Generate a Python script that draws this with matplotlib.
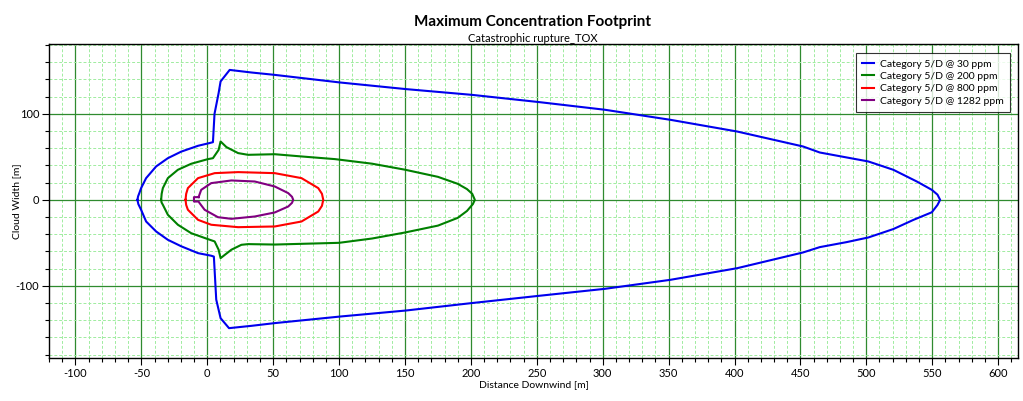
import numpy as np
import matplotlib
matplotlib.use("Agg")
import matplotlib.pyplot as plt
from matplotlib.ticker import MultipleLocator

plt.rcParams['font.family'] = ['Lato', 'DejaVu Sans']
plt.rcParams['axes.unicode_minus'] = False

# Footprint contours (distance downwind, cloud width), in metres
x_30 = [-53, -52.5, -51.5, -50.2, -46.4, -38.8, -29.9, -19.8, -7, 1.8, 4.3, 5.5, 8.6, 10.1, 17,
        33.5, 50.8, 100.7, 150.7, 200.9, 251.7, 301.6, 351.4, 402, 452, 464.7, 501.5,
        520.5, 538.3, 549.7, 554, 556, 554, 549.7, 535.8, 520.5, 501.5, 485, 464.7, 452, 402,
        351.4, 301.6, 251.7, 200.9, 150.7, 100.7, 50.8, 33.5, 16.5, 10.1, 6.8, 5, 3,
        -7, -19.8, -29.9, -38.8, -46.4, -50.2, -52.3, -53]
y_30 = [0, 4, 8, 13.6, 25.2, 38.8, 48.4, 56, 62.8, 66, 67, 100, 124, 137.6, 151,
        148, 145.3, 136.4, 128.7, 122, 113.6, 104.7, 93, 79.4, 62, 55, 44.6,
        34.9, 21.3, 11.6, 6, 0, -6, -14.5, -23.3, -34, -43.8, -49.2, -55, -61.2, -79.5,
        -93, -103.5, -111.6, -120, -128.7, -135.7, -143.4, -146.5, -149.2, -137.6, -116, -66, -65,
        -62, -54, -46.5, -36.8, -25.2, -11.6, -5, 0]

x_200 = [-35, -34.6, -33.7, -29.9, -22.3, -12.2, 0.5, 4.3, 8.6, 10.1, 14.5, 23.4, 31, 51.2, 71.5,
         96.9, 125, 150, 175, 190, 197, 201, 203, 201.5, 197, 190, 175, 150, 125, 100, 51.2, 31, 25.9,
         18.3, 10.1, 8.6, 5.6, 0.5, -12.2, -22.3, -29.9, -33.7, -34.7, -35]
y_200 = [0, 7, 13.6, 25.2, 34.9, 41.9, 47.3, 48.4, 58, 67.8, 61.3, 54.3, 52.3, 53, 50.4,
         47.3, 42, 35, 26.7, 18.6, 12.5, 7, 0, -5, -13, -21, -30, -38, -45, -50, -52, -51.5, -52.3,
         -58, -67.8, -58, -48.4, -45.7, -38.8, -29, -17.4, -5.8, -3, 0]

x_800 = [-16.5, -16, -14.7, -7, 5.6, 23.4, 51.2, 71.5, 84.2, 87, 88, 87, 84.2, 71.5, 51.2, 23.4, 3, -7,
         -14.7, -16, -16.5]
y_800 = [0, 7, 13.6, 25.2, 31, 32.2, 31, 25.2, 13.6, 7, 0, -7, -13.6, -25.2, -31, -31.8, -29, -23.3,
         -11.6, -6, 0]

x_1282 = [-6.6, -4.6, 3, 18.3, 36, 51.2, 61.4, 64.3, 65.2, 64.3, 61.4, 51.2, 36, 18.3, 8.1, -2, -5.8,
          -6.6, -10.1, -10.1, -6.6]
y_1282 = [3.1, 11.6, 19.4, 22.5, 21.3, 15.5, 7.8, 3.5, 0, -3.5, -7.8, -14.7, -19.4, -22.1, -20.2, -11.6,
          -3.9, -2, -2, 3.1, 3.1]

series = [
    (x_30, y_30, "Category 5/D @ 30 ppm", "#0000ee"),
    (x_200, y_200, "Category 5/D @ 200 ppm", "#008000"),
    (x_800, y_800, "Category 5/D @ 800 ppm", "#ff0000"),
    (x_1282, y_1282, "Category 5/D @ 1282 ppm", "#800080"),
]

fig = plt.figure(figsize=(10.23, 4.01), dpi=100)
ax = fig.add_axes([0.048, 0.107, 0.947, 0.783])

for xs, ys, label, col in series:
    ax.plot(xs, ys, color=col, lw=1.5, label=label, solid_joinstyle='round')

ax.set_xlim(-120, 615)
ax.set_ylim(-184, 181)
ax.xaxis.set_major_locator(MultipleLocator(50))
ax.xaxis.set_minor_locator(MultipleLocator(10))
ax.yaxis.set_major_locator(MultipleLocator(100))
ax.yaxis.set_minor_locator(MultipleLocator(20))

ax.grid(which='minor', color='#a0eca0', lw=0.7, ls=(0, (3, 2)))
ax.grid(which='major', color='#2f8a2f', lw=0.9)
ax.set_axisbelow(True)

ax.tick_params(which='major', length=5, width=0.8, labelsize=8, direction='out', pad=2)
ax.tick_params(which='minor', length=3, width=0.8, direction='out')
for s in ax.spines.values():
    s.set_linewidth(1.0)
    s.set_color('black')

ax.set_xlabel("Distance Downwind [m]", fontsize=7.5, labelpad=1)
ax.set_ylabel("Cloud Width [m]", fontsize=7.5)
ax.yaxis.set_label_coords(-0.029, 0.5)

fig.text(0.521, 0.945, "Maximum Concentration Footprint", ha='center', va='center',
         fontsize=11, fontweight='bold')
fig.text(0.521, 0.905, "Catastrophic rupture_TOX", ha='center', va='center', fontsize=8)

leg = ax.legend(loc='upper right', fontsize=7.5, frameon=True, fancybox=False,
                edgecolor='black', handlelength=1.1, handletextpad=0.6, borderpad=0.6,
                labelspacing=0.3, bbox_to_anchor=(0.997, 0.988))
leg.get_frame().set_linewidth(0.8)

fig.savefig("out.png", dpi=100)
